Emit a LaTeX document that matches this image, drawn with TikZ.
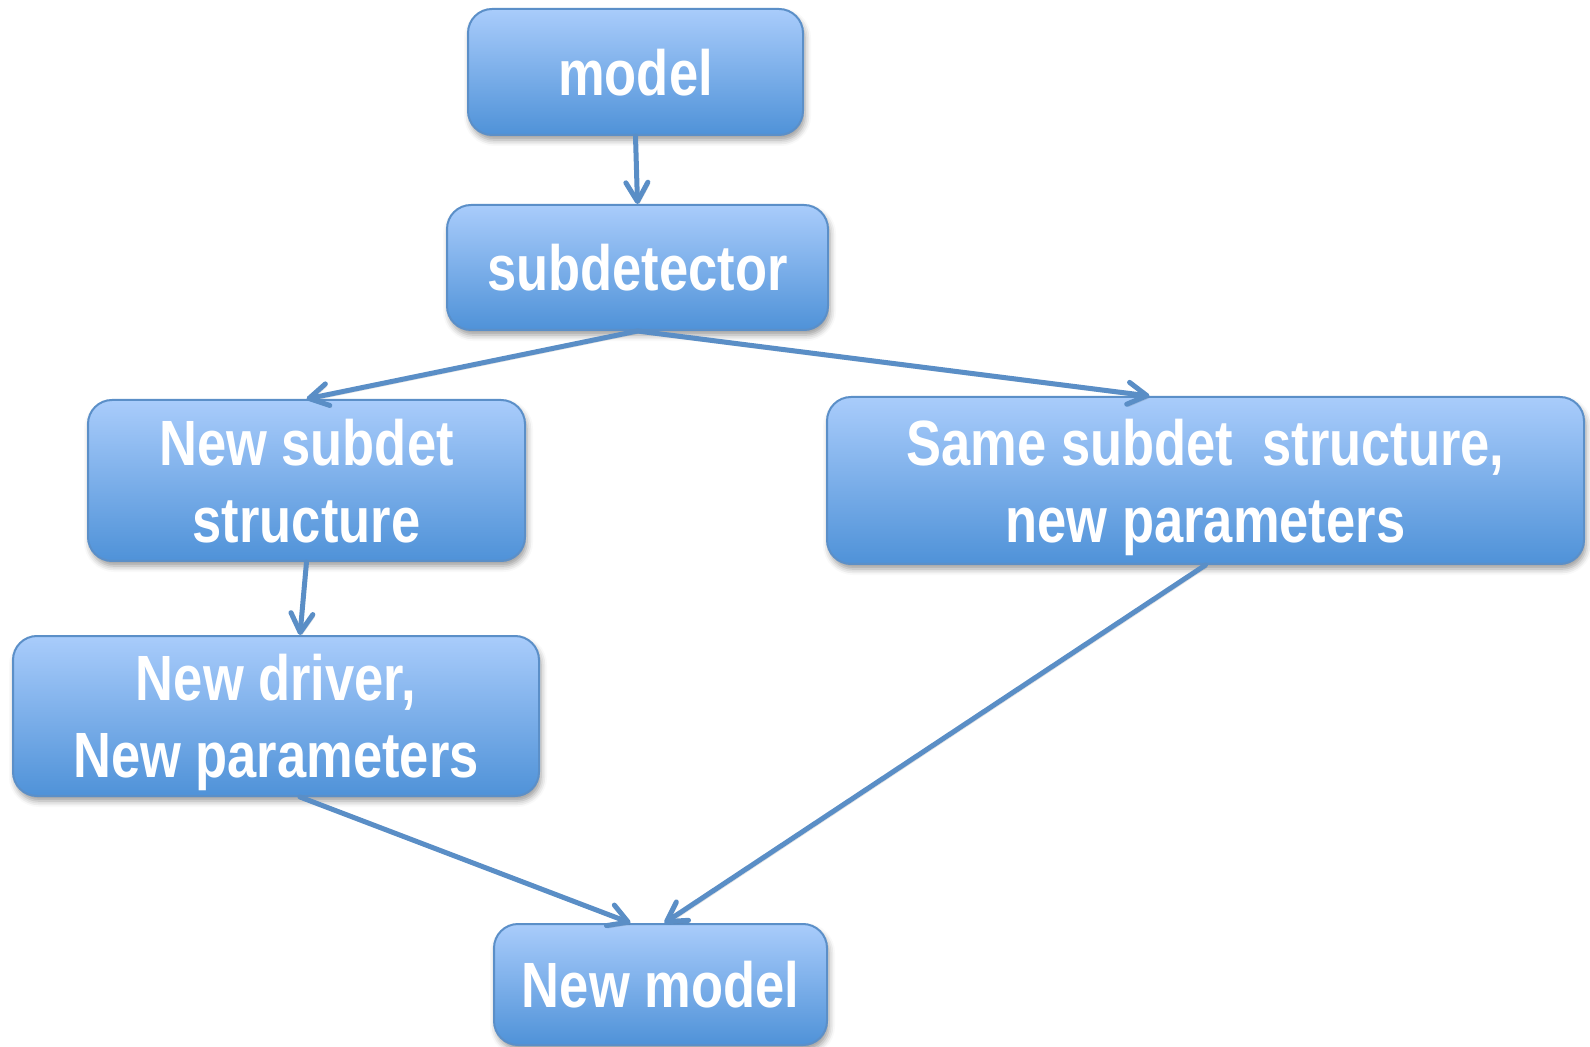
\documentclass[tikz,border=0pt]{standalone}
\usepackage{fontspec}
\setmainfont{Liberation Sans}[FakeStretch=0.82]
\usetikzlibrary{arrows.meta,shadows.blur,calc}
\definecolor{boxtop}{HTML}{A9CCFB}
\definecolor{boxbot}{HTML}{4F92D8}
\definecolor{boxline}{HTML}{5B8FC8}
\definecolor{arrowc}{HTML}{5A8EC6}
\begin{document}
\begin{tikzpicture}[x=0.5pt,y=-0.5pt,
  boxsize/.style 2 args={minimum width=#1*0.5pt, minimum height=#2*0.5pt},
  flowbox/.style={rounded corners=12pt, draw=boxline, line width=1pt,
    top color=boxtop, bottom color=boxbot, text=white,
    font=\bfseries\fontsize{32}{38.5}\selectfont, align=center, inner sep=0pt,
    text depth=-2pt,
    blur shadow={shadow xshift=1pt, shadow yshift=-2.5pt,
      shadow blur radius=3pt, shadow opacity=40}},
  link/.style={draw=arrowc, line width=2.5pt, line cap=round,
    -{Straight Barb[length=9.5pt,width=11pt,line width=2.5pt,round]},
    preaction={draw=black!60, opacity=0.18,
      transform canvas={xshift=0.8pt,yshift=-1.2pt}}}]
  \useasboundingbox (0,0) rectangle (1590,1047);

  % boxes
  \node[flowbox, boxsize={335}{126}] (model) at (635.5,72) {model};
  \node[flowbox, boxsize={381}{125}] (sub) at (637.5,267.5) {subdetector};
  \node[flowbox, boxsize={437}{161}] (newsub) at (306.5,480.5) {New subdet\\structure};
  \node[flowbox, boxsize={757}{167}] (same) at (1205.5,480.5) {Same subdet\ \ structure,\\new parameters};
  \node[flowbox, boxsize={526}{160}] (drv) at (276,716) {New driver,\\New parameters};
  \node[flowbox, boxsize={333}{121}] (nm) at (660.5,984.5) {New model};

  % connectors
  \draw[link] (model.south) -- (sub.north);
  \draw[link] (sub.south) -- (newsub.north);
  \draw[link] (sub.south) -- ($(same.north)+(-56,0)$);
  \draw[link] (newsub.south) -- ($(drv.north)+(24,0)$);
  \draw[link] ($(drv.south)+(24,0)$) -- ($(nm.north)+(-30,0)$);
  \draw[link] (same.south) -- ($(nm.north)+(4,0)$);
\end{tikzpicture}
\end{document}
